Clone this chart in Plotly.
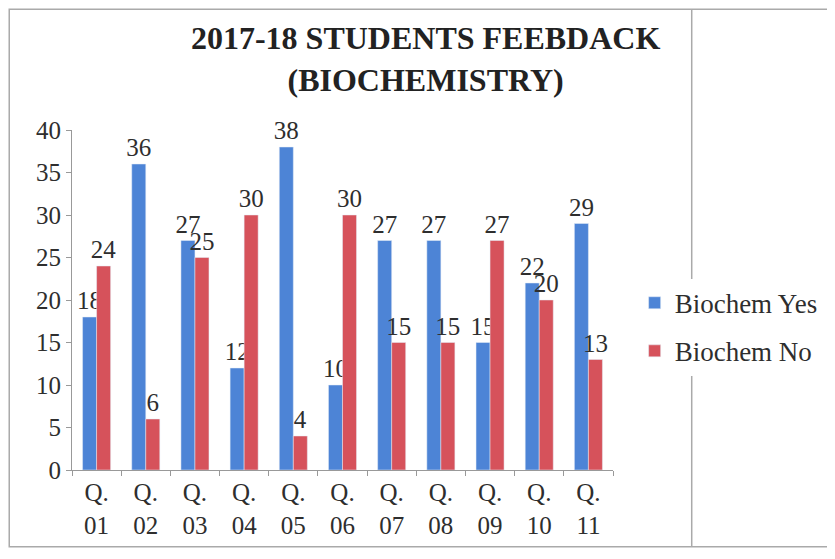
import plotly.graph_objects as go

questions = ["Q.<br>01", "Q.<br>02", "Q.<br>03", "Q.<br>04", "Q.<br>05", "Q.<br>06",
             "Q.<br>07", "Q.<br>08", "Q.<br>09", "Q.<br>10", "Q.<br>11"]
biochem_yes = [18, 36, 27, 12, 38, 10, 27, 27, 15, 22, 29]
biochem_no = [24, 6, 25, 30, 4, 30, 15, 15, 27, 20, 13]

serif = "Liberation Serif, Times New Roman, serif"
txt = "#2E2E2E"

fig = go.Figure()
fig.add_trace(go.Bar(x=questions, y=biochem_yes, name="Biochem Yes", legendgroup="yes",
                     marker=dict(color="#4D84D6"),
                     text=biochem_yes, textposition="outside",
                     textfont=dict(family=serif, size=25, color=txt),
                     cliponaxis=False, constraintext="none"))
fig.add_trace(go.Bar(x=questions, y=biochem_no, name="Biochem No", legendgroup="no",
                     marker=dict(color="#D6525B"),
                     text=biochem_no, textposition="outside",
                     textfont=dict(family=serif, size=25, color=txt),
                     cliponaxis=False, constraintext="none"))

# page has an 8px body margin, so the figure is 8px smaller than the window
fig.update_layout(
    width=827, height=551,
    margin=dict(l=64, r=220, t=122, b=89),
    paper_bgcolor="white", plot_bgcolor="white",
    barmode="group", bargap=0.43, bargroupgap=0,
    title=dict(text="<b>2017-18 STUDENTS FEEBDACK<br>(BIOCHEMISTRY)</b>",
               x=0.505, xanchor="center", y=0.925, yanchor="top",
               font=dict(family=serif, size=32, color="#222222")),
    font=dict(family=serif, size=25, color=txt),
    xaxis=dict(showline=True, linecolor="#999999", ticks="outside", tickson="boundaries",
               ticklen=5, tickcolor="#999999", tickfont=dict(family=serif, size=25, color=txt)),
    yaxis=dict(range=[0, 40], dtick=5, showgrid=False, showline=True, linecolor="#999999",
               ticks="outside", ticklen=5, tickcolor="#999999",
               tickfont=dict(family=serif, size=25, color=txt)),
    legend=dict(x=1.04, y=0.42, xanchor="left", yanchor="middle",
                font=dict(family=serif, size=27, color=txt), tracegroupgap=10,
                itemwidth=30),
    showlegend=True,
)

# scanned page frame
fig.add_shape(type="rect", xref="paper", yref="paper", x0=-0.116, x1=1.42, y0=-0.226, y1=1.355,
              line=dict(color="#AAAAAA", width=1.5))
fig.add_shape(type="line", xref="paper", yref="paper", x0=1.1455, x1=1.1455, y0=-0.226, y1=1.355,
              line=dict(color="#AAAAAA", width=1.5))

fig.write_html("out.html")
